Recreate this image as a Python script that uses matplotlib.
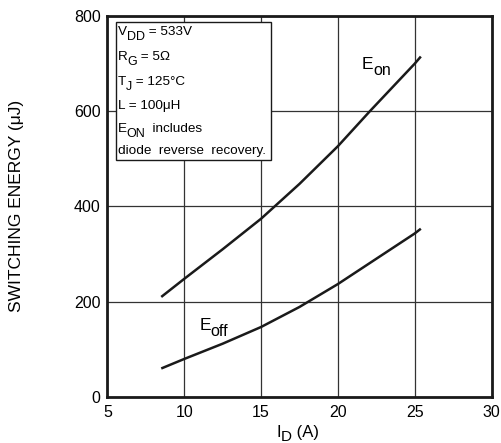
import matplotlib
matplotlib.use("Agg")
import matplotlib.pyplot as plt
from matplotlib.patches import Rectangle
from matplotlib.transforms import offset_copy

plt.rcParams['font.family'] = ['Liberation Sans', 'DejaVu Sans']

id_eon = [8.5, 10, 12.5, 15, 17.5, 20, 22.1, 25, 25.4]
e_on = [210, 248, 310, 374, 447, 526, 600, 699, 714]
id_eoff = [8.5, 10, 12.5, 15, 17.5, 20, 22.5, 25, 25.4]
e_off = [60, 80, 112, 147, 189, 237, 290, 343, 353]
xticks = [5, 10, 15, 20, 25, 30]
yticks = [0, 200, 400, 600, 800]
# (main, subscript, rest)
box_lines = [('V', 'DD', ' = 533V'), ('R', 'G', ' = 5Ω'), ('T', 'J', ' = 125°C'),
             ('L = 100μH', '', ''), ('E', 'ON', '  includes'), ('diode  reverse  recovery.', '', '')]

fig = plt.figure(figsize=(5.02, 4.43), dpi=100)
ax = fig.add_axes([0.2141, 0.1036, 0.765, 0.8614])
ax.plot(id_eon, e_on, color='#1a1a1a', lw=1.8, solid_capstyle='butt')
ax.plot(id_eoff, e_off, color='#1a1a1a', lw=1.8, solid_capstyle='butt')
ax.set_xlim(5, 30)
ax.set_ylim(0, 800)
ax.set_xticks(xticks)
ax.set_yticks(yticks)
ax.grid(True, color='#333333', lw=0.9)
ax.tick_params(length=0, labelsize=11.5)
ax.tick_params(axis='x', pad=6)
ax.tick_params(axis='y', pad=5)
for s in ax.spines.values():
    s.set_linewidth(2.0)
    s.set_color('#1a1a1a')
ax.set_ylabel('SWITCHING ENERGY (μJ)', fontsize=12.5, labelpad=36)

renderer = fig.canvas.get_renderer()


def sub_text(x, y, parts, coords, **kw):
    # parts: list of (string, fontsize, vertical offset in points)
    xoff = 0.0
    for s, size, dy in parts:
        tr = offset_copy(coords, fig=fig, x=xoff, y=dy, units='points')
        t = ax.text(x, y, s, fontsize=size, va='baseline', ha='left', transform=tr, **kw)
        w = t.get_window_extent(renderer).width
        xoff += w * 72.0 / fig.dpi


ax.add_patch(Rectangle((5.53, 498), 10.13, 288, facecolor='white', edgecolor='#1a1a1a', lw=1.0, zorder=3))
ys = [760, 707, 655, 603, 555, 510]
for (m, sb, r), y in zip(box_lines, ys):
    parts = [(m, 9.7, 0)]
    if sb:
        parts.append((sb, 9.0, -3.6))
    if r:
        parts.append((r, 9.7, 0))
    sub_text(5.66, y, parts, ax.transData, zorder=4)

sub_text(21.56, 688, [('E', 12.5, 0), ('on', 11.5, -4.7)], ax.transData)
sub_text(10.97, 140, [('E', 12.5, 0), ('off', 11.5, -3.8)], ax.transData)

# x label
sub_text(0.439, -0.104, [('I', 12, 0), ('D', 11, -3.3), (' (A)', 12, 0)], ax.transAxes, clip_on=False)

fig.savefig('out.png', dpi=100)
